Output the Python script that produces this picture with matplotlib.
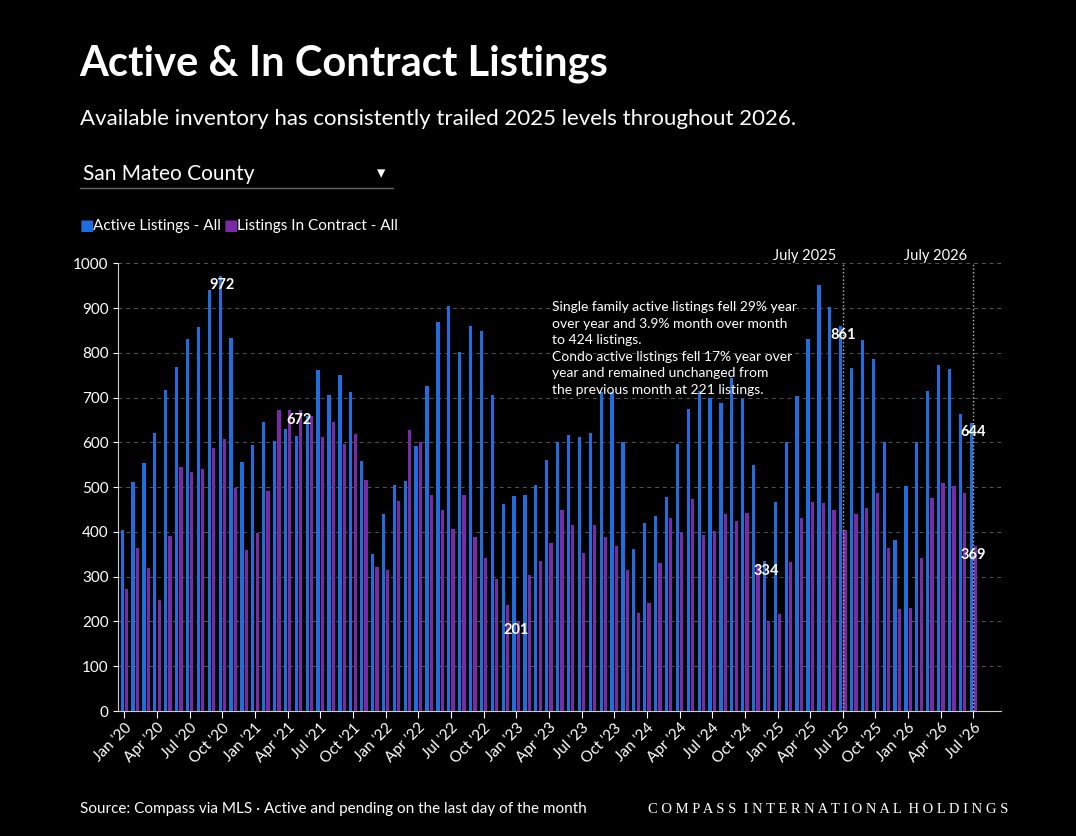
import numpy as np
import matplotlib
matplotlib.use('Agg')
from matplotlib import pyplot as plt

plt.rcParams['font.family'] = ['Lato', 'DejaVu Sans']

years = ['20', '21', '22', '23', '24', '25', '26']
month_names = ['Jan', 'Feb', 'Mar', 'Apr', 'May', 'Jun', 'Jul', 'Aug', 'Sep', 'Oct', 'Nov', 'Dec']
months = [f"{m} '{y}" for y in years for m in month_names][:79]

active = [405, 512, 555, 620, 717, 768, 831, 857, 940, 972, 834, 557,
          595, 645, 603, 630, 615, 660, 762, 705, 750, 713, 558, 350,
          439, 505, 513, 593, 725, 868, 905, 801, 859, 848, 706, 463,
          480, 482, 505, 560, 600, 617, 612, 622, 712, 712, 601, 362,
          420, 435, 477, 596, 675, 714, 699, 689, 743, 697, 549, 334,
          466, 601, 703, 830, 952, 902, 861, 766, 828, 786, 601, 383,
          503, 601, 714, 773, 764, 663, 644]
in_contract = [273, 365, 320, 248, 392, 546, 534, 540, 587, 608, 498, 360,
               398, 491, 672, 672, 672, 660, 611, 645, 597, 618, 516, 322,
               316, 470, 628, 600, 482, 448, 407, 482, 389, 342, 294, 236,
               201, 303, 336, 375, 448, 416, 353, 416, 389, 368, 314, 219,
               242, 331, 431, 399, 474, 393, 401, 440, 424, 442, 329, 201,
               216, 333, 431, 468, 465, 450, 404, 439, 454, 487, 364, 228,
               230, 341, 476, 509, 503, 487, 369]
active_labels = {9: '972', 59: '334', 66: '861', 78: '644'}
contract_labels = {16: '672', 36: '201', 78: '369'}
markers = {66: 'July 2025', 78: 'July 2026'}

note = ('Single family active listings fell 29% year\n'
        'over year and 3.9% month over month\n'
        'to 424 listings.\n'
        'Condo active listings fell 17% year over\n'
        'year and remained unchanged from\n'
        'the previous month at 221 listings.')

BLUE = '#1f6ee0'
PURPLE = '#7a2aa6'


def main():
    fig = plt.figure(figsize=(10.76, 8.36), dpi=100, facecolor='black')
    ax = fig.add_axes([0.11, 0.1495, 0.82, 0.5355], facecolor='black')
    x = np.arange(len(months))
    ax.bar(x - 0.2, active, width=0.3, color=BLUE, zorder=3)
    ax.bar(x + 0.2, in_contract, width=0.3, color=PURPLE, zorder=3)

    ax.set_xlim(-0.55, 80.5)
    ax.set_ylim(0, 1000)
    ax.set_yticks(range(0, 1001, 100))
    ax.yaxis.grid(True, color='#555555', linestyle=(0, (4, 4)), linewidth=0.7, zorder=0)
    ax.set_xticks(x[::3])
    ax.set_xticklabels(months[::3], rotation=45, ha='right', rotation_mode='anchor')
    ax.tick_params(colors='white', labelsize=11)
    ax.tick_params(axis='x', length=5, pad=2)
    for side in ['top', 'right']:
        ax.spines[side].set_visible(False)
    for side in ['left', 'bottom']:
        ax.spines[side].set_color('#cccccc')

    for i, t in active_labels.items():
        ax.text(i, active[i] - 30, t, color='white', fontsize=10.5, fontweight='bold', ha='center', zorder=5)
    for i, t in contract_labels.items():
        ax.text(i, in_contract[i] - 30, t, color='white', fontsize=10.5, fontweight='bold', ha='center', zorder=5)
    for i, t in markers.items():
        ax.axvline(i, color='#bbbbbb', linestyle=':', linewidth=1, zorder=4)
        ax.text(i - 0.6, 1000, t, color='white', fontsize=10.5, ha='right', va='bottom')
    ax.text(39.3, 915, note, color='white', fontsize=10, va='top', linespacing=1.45)

    fig.text(0.074, 0.91, 'Active & In Contract Listings', color='white', fontsize=30, fontweight='bold')
    fig.text(0.074, 0.85, 'Available inventory has consistently trailed 2025 levels throughout 2026.',
             color='white', fontsize=16)
    fig.text(0.077, 0.785, 'San Mateo County', color='white', fontsize=15)
    fig.text(0.35, 0.787, '\u25be', color='white', fontsize=12)
    fig.add_artist(plt.Line2D([0.074, 0.365], [0.775, 0.775], color='#666666', linewidth=1))

    fig.text(0.074, 0.725, '\u25a0', color=BLUE, fontsize=11)
    fig.text(0.086, 0.725, 'Active Listings - All', color='white', fontsize=11)
    fig.text(0.208, 0.725, '\u25a0', color=PURPLE, fontsize=11)
    fig.text(0.22, 0.725, 'Listings In Contract - All', color='white', fontsize=11)

    fig.text(0.074, 0.027, 'Source: Compass via MLS \u00b7 Active and pending on the last day of the month',
             color='white', fontsize=11)
    fig.text(0.937, 0.027, 'C O M P A S S   I N T E R N A T I O N A L   H O L D I N G S'.replace('   ', '  '),
             color='white', fontsize=10.5, family='Liberation Serif', ha='right')

    fig.savefig('out.png', dpi=100, facecolor='black')


if __name__ == '__main__':
    main()
